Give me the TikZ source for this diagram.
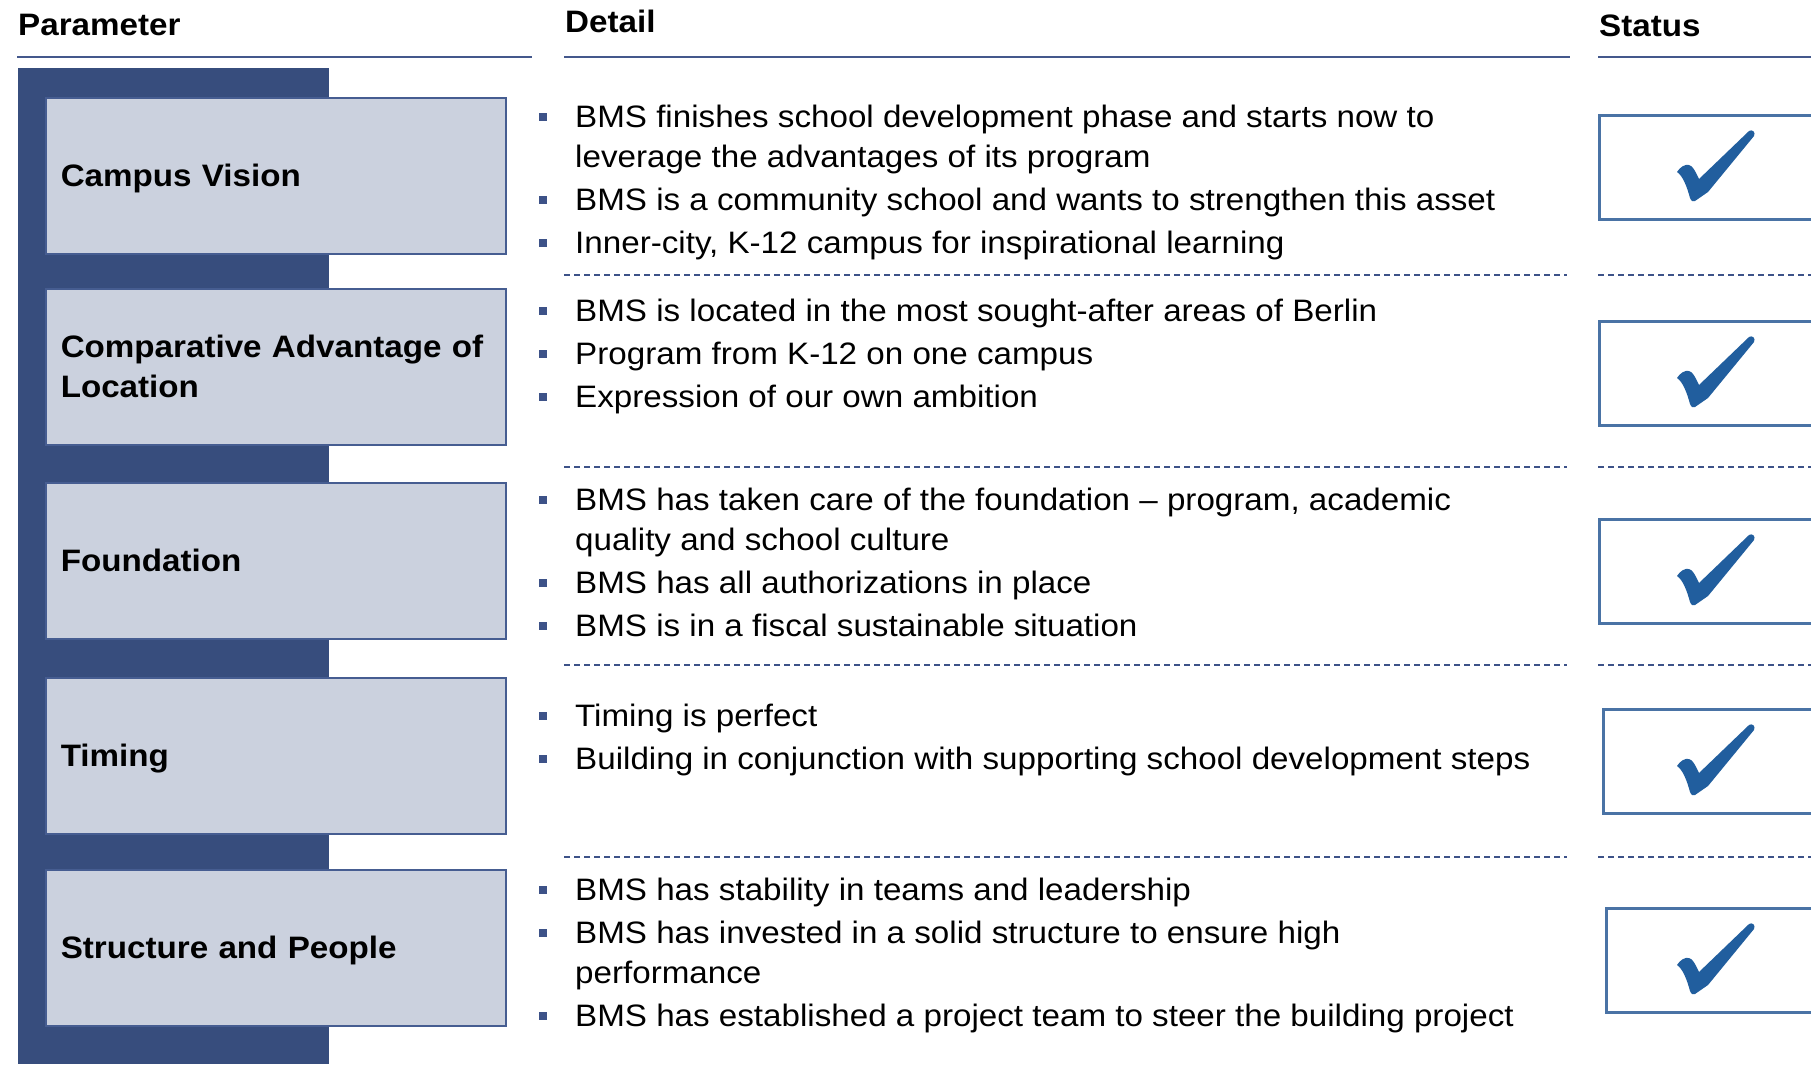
\documentclass[tikz,border=0pt]{standalone}
\usepackage{fontspec}
\setmainfont[FakeStretch=1.07]{Liberation Sans}
\definecolor{barblue}{RGB}{55,77,125}
\definecolor{boxfill}{RGB}{203,209,222}
\definecolor{boxline}{RGB}{70,93,145}
\definecolor{rulecol}{RGB}{68,88,140}
\definecolor{dashcol}{RGB}{61,82,136}
\definecolor{statline}{RGB}{74,115,165}
\definecolor{chkcol}{RGB}{33,94,158}
\newcommand\bul{\llap{\textcolor{dashcol}{\rule[6bp]{8bp}{8bp}}\hspace{28bp}}}
\begin{document}
\begin{tikzpicture}[x=1bp,y=-1bp,
	hdr/.style={anchor=base west,inner sep=0,font=\fontsize{31bp}{40bp}\selectfont\bfseries},
	parambox/.style={draw=boxline,line width=1.5bp,fill=boxfill,anchor=north west,minimum width=460bp,minimum height=156bp,text width=430bp,inner xsep=15bp,inner ysep=0,align=left,font=\fontsize{31bp}{40bp}\selectfont\bfseries},
	oneline/.style={parambox,text depth=0pt},
	detail/.style={anchor=base west,inner sep=0,align=left,font=\fontsize{31bp}{40bp}\selectfont},
	statbox/.style={draw=statline,line width=3bp,fill=white,anchor=north west,minimum width=260bp,minimum height=104bp,inner sep=0},
	headrule/.style={rulecol,line width=2.5bp},
	rowrule/.style={dashcol,line width=2.5bp,dash pattern=on 6bp off 4bp},
	okmark/.pic={\fill[chkcol] (0,0) .. controls (3,-5) and (8,-8) .. (12,-7) .. controls (16,-6) and (18,-1) .. (22,7) -- (72,-41) .. controls (75,-43) and (79,-40) .. (77,-36) -- (31,20) -- (18,29) .. controls (16,30) and (14,29) .. (13,26) .. controls (10,15) and (6,4) .. (0,0) -- cycle;}]
	\useasboundingbox (0,0) rectangle (1811,1064);
	\clip (0,0) rectangle (1811,1064);

	\node[hdr] (hpar) at (18,35) {Parameter};
	\node[hdr] (hdet) at (565,32) {Detail};
	\node[hdr] (hsta) at (1599,36) {Status};
	\draw[headrule] (17,57) -- (532,57);
	\draw[headrule] (564,57) -- (1570,57);
	\draw[headrule] (1598,57) -- (1811,57);

	\fill[barblue] (18,68) rectangle (329,1064);

	\node[oneline] (p1) at (45,97) {Campus Vision};
	\node[parambox] (p2) at (45,288) {Comparative Advantage of\\Location};
	\node[oneline] (p3) at (45,482) {Foundation};
	\node[oneline] (p4) at (45,677) {Timing};
	\node[oneline] (p5) at (45,869) {Structure and People};

	\node[detail] (d1) at (575,253) {\bul BMS finishes school development phase and starts now to\\leverage the advantages of its program\\[3bp]\bul BMS is a community school and wants to strengthen this asset\\[3bp]\bul Inner-city, K-12 campus for inspirational learning};
	\node[detail] (d2) at (575,407) {\bul BMS is located in the most sought-after areas of Berlin\\[3bp]\bul Program from K-12 on one campus\\[3bp]\bul Expression of our own ambition};
	\node[detail] (d3) at (575,636) {\bul BMS has taken care of the foundation – program, academic\\quality and school culture\\[3bp]\bul BMS has all authorizations in place\\[3bp]\bul BMS is in a fiscal sustainable situation};
	\node[detail] (d4) at (575,769) {\bul Timing is perfect\\[3bp]\bul Building in conjunction with supporting school development steps};
	\node[detail] (d5) at (575,1026) {\bul BMS has stability in teams and leadership\\[3bp]\bul BMS has invested in a solid structure to ensure high\\performance\\[3bp]\bul BMS has established a project team to steer the building project};

	\draw[rowrule] (564,275) -- (1567,275);
	\draw[rowrule] (1598,275) -- (1811,275);
	\draw[rowrule] (564,467) -- (1567,467);
	\draw[rowrule] (1598,467) -- (1811,467);
	\draw[rowrule] (564,665) -- (1567,665);
	\draw[rowrule] (1598,665) -- (1811,665);
	\draw[rowrule] (564,857) -- (1567,857);
	\draw[rowrule] (1598,857) -- (1811,857);

	\node[statbox] (s1) at (1598,114) {};
	\node[statbox] (s2) at (1598,320) {};
	\node[statbox] (s3) at (1598,518) {};
	\node[statbox] (s4) at (1602,708) {};
	\node[statbox] (s5) at (1605,907) {};
	\pic at (1677,172) {okmark};
	\pic at (1677,378) {okmark};
	\pic at (1677,576) {okmark};
	\pic at (1677,766) {okmark};
	\pic at (1677,965) {okmark};
\end{tikzpicture}
\end{document}
